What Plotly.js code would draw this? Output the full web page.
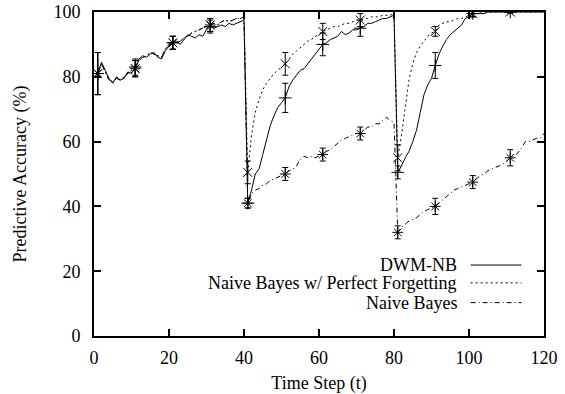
<!DOCTYPE html>
<html><head><meta charset="utf-8">
<script src="https://cdn.plot.ly/plotly-3.0.1.min.js"></script>
<style>html,body{margin:0;padding:0;background:#fff}#chart{width:565px;height:394px}</style>
</head><body><div id="chart"></div>
<script>
// ---- data ----
const dwmT = [1,2,3,4,5,6,7,8,9,10,11,12,13,14,15,16,17,18,19,20,21,22,23,24,25,26,27,28,29,30,31,32,33,34,35,36,37,38,39,40,
  41,42,43,44,45,46,47,48,49,50,51,52,53,54,55,56,57,58,59,60,61,62,63,64,65,66,67,68,69,70,71,72,73,74,75,76,77,78,79,80,
  81,82,83,84,85,86,87,88,89,90,91,92,93,94,95,96,97,98,99,100,101,102,103,104,105,110,111,115,120];
const dwmV = [81,84.5,82,79.5,78,80,79,79.5,81.5,81,83,85.5,86.5,86,87,87.5,86,85.5,88,89.5,90.5,91,90,91.5,93,92.5,92,93,92.5,94.5,95.5,95,95.5,96,95.5,96.5,96,96.5,97,97.5,
  41,45,50,51.5,56,61,65,68,70.5,72,73.5,77,79,80.5,82,82.5,84,85.5,87,88.5,90,90.5,91.5,92,92.5,94,93,93.5,94.5,94.5,95,95.5,96.5,96.5,97,97.5,98,98,98.5,99,
  50.5,52.5,55,57,60,63.5,69,74.5,77.5,79.5,83.5,87,89.5,91.5,93,94,95,96,98,98.5,99.5,99.5,99.5,99.5,100,100,100,100,100];

const pfT = [1,2,3,4,5,6,7,8,9,10,11,12,13,14,15,16,17,18,19,20,21,22,23,24,25,26,27,28,29,30,31,32,33,34,35,36,37,38,39,40,
  41,42,43,44,45,46,47,48,49,50,51,52,53,54,55,56,57,58,59,60,61,62,63,64,65,66,67,68,69,70,71,72,73,74,75,76,77,78,79,80,
  81,82,83,84,85,86,87,88,89,90,91,92,93,94,95,96,97,98,99,100,101,102,103,110,111,115,120];
const pfV = [81,84,81.5,79,78.5,79.5,79,80,81,82,82.5,85,86,86.5,87.5,87,86.5,86,88.5,90,90.5,90.5,91,92,92.5,93.5,94,94.5,95,95.5,96,96.5,96,97,97.5,97,97.5,98,98,98.5,
  50.5,62,69,73,76,78,79.5,81,82,83,84,85.5,87,88,89,90,91,91.5,92.5,93,94,94.5,95,95.5,95.5,96,96.5,96.5,97,97.5,97.5,98,98,98.5,98.5,98.5,99,99,99,99.5,
  55,62,70,79,84,87.5,89.5,91,92.5,93.5,94,96,96.5,97,97,97.5,98,98,98.5,99,99.5,99.5,100,100,100,100,100];

const nbT = [1,2,3,4,5,6,7,8,9,10,11,12,13,14,15,16,17,18,19,20,21,22,23,24,25,26,27,28,29,30,31,32,33,34,35,36,37,38,39,40,
  41,42,43,44,45,46,47,48,49,50,51,52,53,54,55,56,57,58,59,60,61,62,63,64,65,66,67,68,69,70,71,72,73,74,75,76,77,78,79,80,
  81,82,83,84,85,86,87,88,89,90,91,92,93,94,95,96,97,98,99,100,101,102,103,104,105,106,107,108,109,110,111,112,113,114,115,116,117,118,119,120];
const nbV = [81,84,81.5,79,78.5,79.5,79,80,81,82,82.5,85,86,86.5,87.5,87,86.5,86,88.5,90,90.5,90.5,91,92,92.5,93.5,94,94.5,95,95.5,96,96.5,96,97,97.5,97,97.5,98,98,98.5,
  41,44,45,45.5,46.5,47,48,48.5,49,49.5,50,51,51.5,52.5,54.5,55.5,55,55.5,55,55.5,56,57,57.5,58.5,59.5,60.5,61,61.5,62,62.5,62.5,63.5,64.5,64.5,65.5,65.5,66.5,67.5,66.5,66,
  32,33.5,34.5,35.5,36,36.5,37.5,38.5,39,39.5,40,41,42,43,44,45,45.5,46,46.5,47,47.5,48.5,49.5,50,51,51.5,52,52.5,53,54,55,55.5,56.5,58,60,60,60.5,61,61,62.5];

// error-bar sample times and half-widths
const markT = [1,11,21,31,41,51,61,71,81,91,101,111];
const dwmErr = [6.5,2.5,2,2,1.5,4.5,3.5,2.5,2,4,1,0.3];
const pfErr  = [6.5,2.5,2,2,3.5,3.5,2.5,2,4,1.5,1,0.3];
const nbErr  = [6.5,2.5,2,2,1.5,2,2,2,2,2.5,2,2.5];

const seriesNames = ["DWM-NB","Naive Bayes w/ Perfect Forgetting","Naive Bayes"];
const xTicks = [0,20,40,60,80,100,120];
const yTicks = [0,20,40,60,80,100];

// ---- build ----
function pick(T,V){return markT.map(t=>V[T.indexOf(t)]);}
const series = [
  {T:dwmT,V:dwmV,E:dwmErr,dash:"solid",sym:"cross-thin-open"},
  {T:pfT,V:pfV,E:pfErr,dash:"2px,3px",sym:"x-thin-open"},
  {T:nbT,V:nbV,E:nbErr,dash:"5px,3px,1px,3px",sym:"asterisk-open"}
];
const traces=[];
series.forEach((s,i)=>{
  traces.push({x:s.T,y:s.V,mode:"lines",line:{color:"#000",width:1,dash:s.dash},showlegend:false,hoverinfo:"skip"});
  traces.push({x:markT,y:pick(s.T,s.V),mode:"markers",marker:{symbol:s.sym,size:9,color:"#000",line:{color:"#000",width:1}},
    error_y:{type:"data",array:s.E,visible:true,color:"#000",thickness:1,width:3},showlegend:false,hoverinfo:"skip"});
});

const font={family:"Liberation Serif",size:18,color:"#000"};
const legY=[0.219,0.164,0.103];
const annotations=seriesNames.map((n,i)=>({xref:"paper",yref:"paper",x:0.811,y:legY[i],xanchor:"right",yanchor:"middle",text:n,showarrow:false,font:font}));
const shapes=series.map((s,i)=>({type:"line",xref:"paper",yref:"paper",x0:0.837,x1:0.950,y0:legY[i],y1:legY[i],line:{color:"#000",width:1,dash:s.dash}}));

const axis={showgrid:false,zeroline:false,showline:true,linecolor:"#000",linewidth:2,mirror:"ticks",ticks:"inside",ticklen:7,tickwidth:2,tickcolor:"#000",tickfont:font};
const layout={
  width:565,height:394,margin:{l:94,r:21,t:12,b:58},paper_bgcolor:"#fff",plot_bgcolor:"#fff",font:font,
  xaxis:Object.assign({},axis,{range:[0,120],tickvals:xTicks,ticktext:xTicks.map(String),ticklabelstandoff:4,title:{text:"Time Step (t)",font:font,standoff:10}}),
  yaxis:Object.assign({},axis,{range:[0,100],tickvals:yTicks,ticktext:yTicks.map(String),ticklabelstandoff:8,title:{text:"Predictive Accuracy (%)",font:font,standoff:22}}),
  annotations:annotations,shapes:shapes
};
Plotly.newPlot("chart",traces,layout,{staticPlot:true,displayModeBar:false});
</script></body></html>
